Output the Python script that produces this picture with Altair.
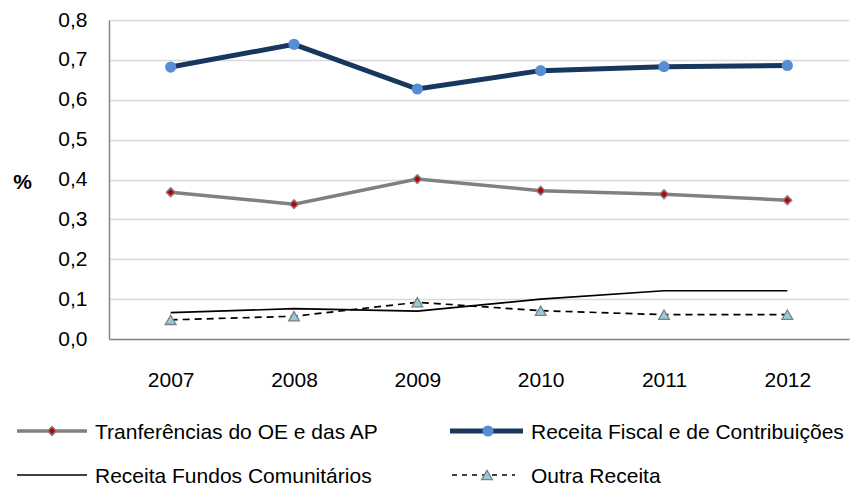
import altair as alt
import pandas as pd

# Categories and series values (%)
years = ["2007", "2008", "2009", "2010", "2011", "2012"]
transferencias = [0.368, 0.338, 0.401, 0.372, 0.363, 0.348]
receita_fiscal = [0.682, 0.739, 0.627, 0.673, 0.683, 0.686]
fundos_comunitarios = [0.066, 0.076, 0.070, 0.100, 0.121, 0.121]
outra_receita = [0.048, 0.057, 0.092, 0.071, 0.061, 0.061]

series_names = [
    "Tranferências do OE e das AP",
    "Receita Fiscal e de Contribuições",
    "Receita Fundos Comunitários",
    "Outra Receita",
]

FONT = "Liberation Sans"
FS = 21
W, H = 740, 319

x_enc = alt.X(
    "year:O",
    scale=alt.Scale(type="point", padding=0.5, domain=years),
    axis=alt.Axis(
        title=None, labelAngle=0, ticks=False, labelPadding=30,
        labelFont=FONT, labelFontSize=FS, labelColor="black",
        domainColor="#868686", domainWidth=1.5, grid=False,
    ),
)
y_scale = alt.Scale(domain=[0, 0.8], nice=False, zero=True)
y_enc = alt.Y(
    "value:Q",
    scale=y_scale,
    axis=alt.Axis(
        title="%", titleAngle=0, titleX=-87, titleY=162, titleAlign="center",
        titleBaseline="middle", titleFontWeight="bold", titleFontSize=FS,
        titleFont=FONT, titleColor="black",
        values=[0, 0.1, 0.2, 0.3, 0.4, 0.5, 0.6, 0.7, 0.8],
        labelExpr="replace(format(datum.value, '.1f'), '.', ',')",
        labelFont=FONT, labelFontSize=FS, labelColor="black",
        ticks=False, tickSize=0, labelPadding=22,
        domainColor="#868686", domainWidth=1.5,
        grid=True, gridColor="#D9D9D9", gridWidth=1.5,
    ),
)


def frame(values):
    return pd.DataFrame({"year": years, "value": values})


df_tr = frame(transferencias)
df_rf = frame(receita_fiscal)
df_fc = frame(fundos_comunitarios)
df_or = frame(outra_receita)

line_style_tr = dict(color="#808080", strokeWidth=3.5)
line_style_rf = dict(color="#17375E", strokeWidth=5)
line_style_fc = dict(color="black", strokeWidth=1.7)
line_style_or = dict(color="black", strokeWidth=1.7, strokeDash=[7, 5])

marker_tr = dict(shape="diamond", filled=True, fill="#C00000", stroke="#808080",
                 strokeWidth=1.5, size=75, opacity=1)
marker_rf = dict(shape="circle", filled=True, fill="#558ED5", size=125, opacity=1)
marker_or = dict(shape="triangle-up", filled=True, fill="#93CDDD", stroke="#7F7F7F",
                 strokeWidth=1.3, size=115, opacity=1)

line_fc = alt.Chart(df_fc).mark_line(**line_style_fc).encode(x=x_enc, y=y_enc)
line_or = alt.Chart(df_or).mark_line(**line_style_or).encode(x=x_enc, y=y_enc)
pts_or = alt.Chart(df_or).mark_point(**marker_or).encode(x=x_enc, y=y_enc)
line_tr = alt.Chart(df_tr).mark_line(**line_style_tr).encode(x=x_enc, y=y_enc)
pts_tr = alt.Chart(df_tr).mark_point(**marker_tr).encode(x=x_enc, y=y_enc)
line_rf = alt.Chart(df_rf).mark_line(**line_style_rf).encode(x=x_enc, y=y_enc)
pts_rf = alt.Chart(df_rf).mark_point(**marker_rf).encode(x=x_enc, y=y_enc)

# Legend entries laid out in two rows below the plot
legend_dash = dict(color="black", strokeWidth=1.7, strokeDash=[5, 5])
legend_specs = [
    # name, line x start, line x end, marker x, text x, row y, line style, marker style
    (series_names[0], -92, -22, -57, -14, 411, line_style_tr, marker_tr),
    (series_names[1], 341, 414, 379, 422, 411, line_style_rf, marker_rf),
    (series_names[2], -92, -22, None, -14, 455, line_style_fc, None),
    (series_names[3], 343, 406, 378, 422, 455, legend_dash, marker_or),
]
legend_layers = []
for name, lx1, lx2, mx, tx, ry, lstyle, mstyle in legend_specs:
    ldf = pd.DataFrame({"label": [name]})
    legend_layers.append(
        alt.Chart(ldf).mark_rule(**lstyle).encode(x=alt.value(lx1), x2=alt.value(lx2), y=alt.value(ry))
    )
    if mstyle is not None:
        legend_layers.append(
            alt.Chart(ldf).mark_point(**mstyle).encode(x=alt.value(mx), y=alt.value(ry))
        )
    legend_layers.append(
        alt.Chart(ldf).mark_text(
            align="left", baseline="middle", font=FONT, fontSize=FS, color="black"
        ).encode(x=alt.value(tx), y=alt.value(ry + 2), text="label:N")
    )

chart = alt.layer(
    line_fc, line_or, pts_or, line_tr, pts_tr, line_rf, pts_rf, *legend_layers
).properties(
    width=W, height=H,
    autosize=alt.AutoSizeParams(type="none"),
    padding={"left": 109, "top": 20, "right": 7, "bottom": 149},
    background="white",
).configure_view(
    stroke=None
)

chart.save("out.html", embed_options={"renderer": "svg", "actions": False})
